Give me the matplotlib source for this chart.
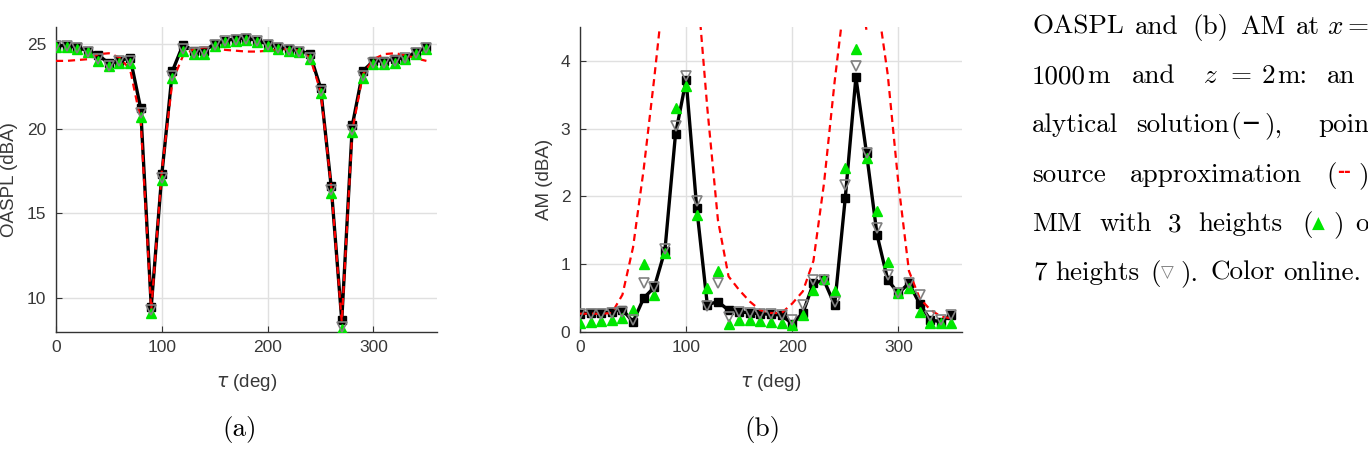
import matplotlib
matplotlib.use("Agg")
import matplotlib.pyplot as plt
import numpy as np

# ---------------- data ----------------
tau = list(range(0, 360, 10))

# (a) OASPL (dBA)
oaspl_analytical = [24.9, 24.9, 24.8, 24.6, 24.35, 23.85, 24.0, 24.2, 21.2, 9.5,
                    17.3, 23.4, 24.95, 24.6, 24.6, 25.0, 25.2, 25.3, 25.35, 25.2,
                    25.0, 24.8, 24.7, 24.6, 24.4, 22.4, 16.6, 8.7, 20.2, 23.4,
                    24.0, 24.0, 24.1, 24.2, 24.5, 24.8]
oaspl_point = [24.0, 24.0, 24.05, 24.1, 24.4, 24.45, 24.2, 23.5, 20.5, 9.3,
               17.5, 22.8, 24.3, 24.7, 24.8, 24.75, 24.65, 24.6, 24.55, 24.55,
               24.6, 24.65, 24.7, 24.6, 24.2, 22.2, 16.6, 8.6, 19.9, 23.2,
               24.1, 24.4, 24.45, 24.35, 24.15, 24.0]
oaspl_mm3 = [24.8, 24.8, 24.7, 24.5, 24.0, 23.7, 23.9, 23.9, 20.7, 9.1,
             17.0, 23.0, 24.6, 24.4, 24.4, 24.9, 25.1, 25.2, 25.25, 25.1,
             24.9, 24.7, 24.6, 24.5, 24.1, 22.1, 16.2, 8.2, 19.8, 23.0,
             23.8, 23.8, 23.9, 24.1, 24.4, 24.7]
oaspl_mm7 = [24.85, 24.85, 24.75, 24.55, 24.1, 23.7, 24.0, 24.0, 20.9, 9.3,
             17.1, 23.1, 24.7, 24.45, 24.5, 24.95, 25.15, 25.25, 25.3, 25.15,
             24.95, 24.75, 24.65, 24.55, 24.2, 22.2, 16.4, 8.3, 19.9, 23.1,
             23.9, 23.9, 24.0, 24.15, 24.45, 24.75]

# (b) AM (dBA)
am_analytical = [0.27, 0.28, 0.28, 0.30, 0.33, 0.15, 0.50, 0.66, 1.20, 2.92,
                 3.72, 1.83, 0.40, 0.45, 0.32, 0.30, 0.28, 0.27, 0.26, 0.25,
                 0.12, 0.28, 0.72, 0.76, 0.40, 1.98, 3.76, 2.64, 1.43, 0.77,
                 0.57, 0.72, 0.42, 0.18, 0.15, 0.25]
am_point = [0.27, 0.27, 0.27, 0.28, 0.55, 1.25, 2.40, 3.75, 5.20, 6.50,
            7.00, 5.20, 3.30, 1.65, 0.82, 0.62, 0.45, 0.32, 0.28, 0.28,
            0.42, 0.60, 1.05, 2.20, 3.70, 5.00, 5.50, 4.45, 4.90, 3.80,
            2.20, 0.90, 0.50, 0.33, 0.23, 0.20]
am_mm3 = [0.14, 0.15, 0.16, 0.17, 0.20, 0.33, 1.00, 0.55, 1.17, 3.30,
          3.63, 1.73, 0.65, 0.90, 0.12, 0.18, 0.17, 0.16, 0.15, 0.14,
          0.10, 0.25, 0.62, 0.78, 0.60, 2.42, 4.17, 2.57, 1.78, 1.04,
          0.57, 0.65, 0.30, 0.13, 0.13, 0.14]
am_mm7 = [0.27, 0.27, 0.27, 0.28, 0.30, 0.17, 0.72, 0.67, 1.23, 3.04,
          3.77, 1.93, 0.38, 0.72, 0.22, 0.30, 0.28, 0.27, 0.26, 0.25,
          0.18, 0.40, 0.77, 0.77, 0.45, 2.17, 3.92, 2.64, 1.53, 0.84,
          0.57, 0.72, 0.55, 0.23, 0.18, 0.25]

xticks = [0, 100, 200, 300]
yticks_a = [10, 15, 20, 25]
yticks_b = [0, 1, 2, 3, 4]

# ---------------- figure ----------------
W, H = 1368, 450
fig = plt.figure(figsize=(W / 100, H / 100), dpi=100)

GREEN = "#00e600"
GRAY = "0.5"
AXC = "0.2"
TXTC = "0.22"

def px_rect(x0, x1, ytop, ybot):
    return [x0 / W, 1 - ybot / H, (x1 - x0) / W, (ybot - ytop) / H]

def style(ax, ylim, yticks, ylabel, ylabx):
    ax.set_xlim(0, 360)
    ax.set_ylim(*ylim)
    ax.set_xticks(xticks)
    ax.set_yticks(yticks)
    ax.grid(True, color="0.88", linewidth=1.0)
    ax.set_axisbelow(True)
    for s in ["top", "right"]:
        ax.spines[s].set_visible(False)
    for s in ["left", "bottom"]:
        ax.spines[s].set_color(AXC)
        ax.spines[s].set_linewidth(1.0)
    ax.tick_params(direction="in", length=4, width=0.8, color=AXC,
                   labelsize=12.5, labelcolor=TXTC)
    ax.tick_params(axis="x", pad=6)
    ax.tick_params(axis="y", pad=7)
    for lab in ax.get_xticklabels() + ax.get_yticklabels():
        lab.set_fontfamily("Liberation Sans")
    ax.set_xlabel(r"$\tau$ (deg)", fontsize=13.5, color=TXTC,
                  fontfamily="Liberation Sans")
    ax.xaxis.set_label_coords(0.5, -0.132)
    ax.set_ylabel(ylabel, fontsize=13.5, color=TXTC, fontfamily="Liberation Sans")
    ax.yaxis.set_label_coords(ylabx, 0.5)

def draw(ax, a, p, m3, m7):
    ax.plot(tau, a, color="black", linewidth=2.4, marker="s", markersize=5.5,
            markerfacecolor="black", markeredgecolor="black", zorder=3)
    ax.plot(tau, p, color="red", linewidth=1.6, linestyle=(0, (3.2, 2.2)), zorder=4)
    ax.plot(tau, m3, linestyle="none", marker="^", markersize=7.5,
            markerfacecolor=GREEN, markeredgecolor=GREEN, zorder=5)
    ax.plot(tau, m7, linestyle="none", marker="v", markersize=7.5,
            markerfacecolor="none", markeredgecolor=GRAY, markeredgewidth=1.2,
            zorder=6)

ax1 = fig.add_axes(px_rect(56, 437, 27, 332))
draw(ax1, oaspl_analytical, oaspl_point, oaspl_mm3, oaspl_mm7)
style(ax1, (8, 26), yticks_a, "OASPL (dBA)", -0.0997)

ax2 = fig.add_axes(px_rect(580, 962, 27, 332))
draw(ax2, am_analytical, am_point, am_mm3, am_mm7)
style(ax2, (0, 4.5), yticks_b, "AM (dBA)", -0.071)

# ---------------- caption text ----------------
FS = 19.5
SERIF = "cmr10"

def put(x, y, s, color="black", family=SERIF, weight="normal", size=FS):
    fig.text(x / W, 1 - y / H, s, fontsize=size, color=color, family=family,
             fontweight=weight, va="baseline", ha="left", math_fontfamily="cm")

lines = [
    (34, [(1032, "OASPL"), (1135, "and"), (1192, "(b)"), (1240, "AM"),
          (1296, "at"), (1327, r"$x$"), (1347, "=")]),
    (83, [(1032, "1000"), (1087, "m"), (1132, "and"), (1203, r"$z$"),
          (1230, "="), (1262, "2"), (1277, "m:"), (1327, "an")]),
    (132, [(1032, "alytical"), (1136, "solution"), (1230, "("), (1264, "),"),
           (1318, "poin")]),
    (182, [(1032, "source"), (1130, "approximation"), (1326, "("), (1358, ")")]),
    (231, [(1032, "MM"), (1100, "with"), (1168, "3"), (1198, "heights"),
           (1302, "("), (1333, ")"), (1355, "o")]),
    (280, [(1033, "7"), (1055, "heights"), (1150, "("), (1180, ")."),
           (1210, "Color"), (1283, "online.")]),
]
for yb, words in lines:
    for x, w in words:
        put(x, yb, w)

put(1242, 128, "\u2014", family="DejaVu Sans", weight="bold", size=12)
put(1337, 177, "--", color="red", family="DejaVu Sans", weight="bold", size=12)
put(1312, 229, "\u25b2", color=GREEN, family="DejaVu Sans", size=12)
put(1161, 278, "\u25bd", color=GRAY, family="DejaVu Sans", size=12)

fig.text(240 / W, 1 - 436 / H, "(a)", fontsize=FS, family=SERIF, ha="center",
         va="baseline")
fig.text(762 / W, 1 - 436 / H, "(b)", fontsize=FS, family=SERIF, ha="center",
         va="baseline")

fig.savefig("out.png", dpi=100)
